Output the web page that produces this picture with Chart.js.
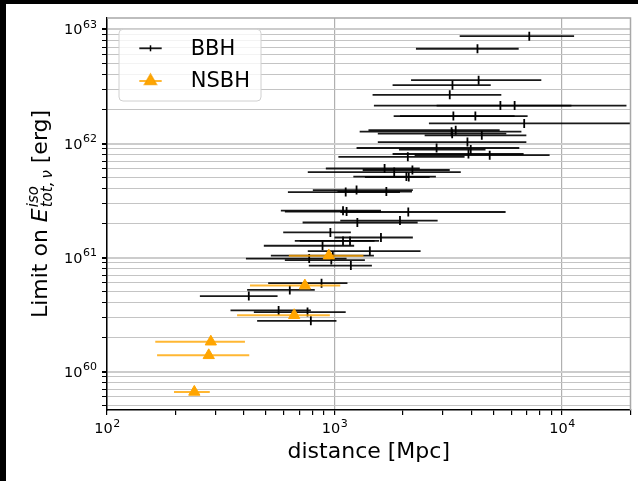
<!DOCTYPE html>
<html>
<head>
<meta charset="utf-8">
<script src="https://cdn.jsdelivr.net/npm/chart.js@4"></script>
<style>
  html, body { margin: 0; padding: 0; background: #000; width: 638px; height: 481px; overflow: hidden; }
  #wrap { position: absolute; left: 6px; top: 4px; width: 632px; height: 477px; background: #fff; }
</style>
</head>
<body>
<div id="wrap"><canvas id="LimitChart" width="632" height="477"></canvas></div>
<script>
// BBH events: distance [Mpc], distance interval, limit on E_iso [erg]
const bbhDist  = [7180, 4250, 4300, 3300, 3210, 5360, 6190, 3330, 4160, 6820,
                  3410, 3270, 3290, 4440, 3840, 2810, 3970, 2100, 3880, 4810,
                  1660, 1830, 2200, 2070, 2120, 1120, 1250, 1690, 1090, 1130,
                  2110, 1260, 1940, 959, 1600, 1090, 1170, 886, 1430, 983,
                  774, 968, 1180, 877, 636, 420, 568, 761, 787];
const bbhLo    = [3550, 2280, 2170, 1800, 1470, 1490, 2810, 1820, 1940, 2600,
                  1410, 1290, 1550, 2490, 1550, 1250, 1920, 1040, 1800, 2250,
                  916, 763, 1330, 1210, 1360, 624, 803, 1030, 581, 605,
                  1060, 724, 1060, 595, 1000, 669, 704, 489, 763, 525,
                  408, 605, 771, 511, 413, 256, 349, 442, 457];
const bbhHi    = [11300, 6450, 8110, 4860, 5410, 19200, 11000, 6190, 7060, 30000,
                  5320, 6630, 5690, 6970, 6970, 6490, 4610, 3730, 6780, 8820,
                  2370, 3590, 3210, 2790, 2620, 1940, 2210, 2190, 1600, 1600,
                  5650, 2320, 2840, 1180, 2210, 1570, 1500, 1220, 2390, 1490,
                  1130, 1360, 1460, 1140, 819, 562, 787, 1120, 1020];
const bbhLimit = [8.73e62, 6.77e62, 3.59e62, 3.25e62, 2.67e62, 2.15e62, 2.15e62, 1.74e62, 1.74e62, 1.50e62,
                  1.31e62, 1.27e62, 1.22e62, 1.18e62, 1.03e62, 9.13e61, 8.86e61, 7.64e61, 8.09e61, 7.90e61,
                  6.04e61, 5.62e61, 5.86e61, 5.13e61, 5.08e61, 3.75e61, 3.91e61, 3.79e61, 2.58e61, 2.53e61,
                  2.51e61, 2.03e61, 2.11e61, 1.66e61, 1.50e61, 1.40e61, 1.40e61, 1.27e61, 1.14e61, 1.04e61,
                  9.80e60, 9.51e60, 8.51e60, 5.97e60, 5.21e60, 4.60e60, 3.44e60, 3.33e60, 2.79e60];

// NSBH events
const nsbhDist  = [944, 741, 665, 286, 280, 242];
const nsbhLo    = [630, 425, 373, 163, 166, 197];
const nsbhHi    = [1340, 1060, 954, 404, 422, 283];
const nsbhLimit = [1.04e61, 5.68e60, 3.12e60, 1.83e60, 1.39e60, 6.64e59];

// axes
const xRange = [100, 20000];
const yRange = [4.61e59, 1.26e63];

const FONT = "'DejaVu Sans', sans-serif";

function isDecade(v) {
	const l = Math.log10(v);
	return Math.abs(l - Math.round(l)) < 1e-6;
}
// 1..9 x 10^n inside [lo, hi]
function logTicks(lo, hi) {
	const out = [];
	for (let e = Math.floor(Math.log10(lo)); e <= Math.ceil(Math.log10(hi)); e++) {
		for (let m = 1; m <= 9; m++) {
			const v = m * Math.pow(10, e);
			if (v >= lo * (1 - 1e-9) && v <= hi * (1 + 1e-9)) out.push({value: v});
		}
	}
	return out;
}

// horizontal error bars, drawn under each dataset's markers
const errorBars = {
	id: 'errorBars',
	beforeDatasetDraw(chart, args) {
		const ds = chart.data.datasets[args.index];
		if (!ds.errLo) return;
		const {ctx, chartArea: a, scales: {x, y}} = chart;
		ctx.save();
		ctx.beginPath();
		ctx.rect(a.left, a.top, a.right - a.left, a.bottom - a.top);
		ctx.clip();
		ctx.strokeStyle = ds.errColor;
		ctx.lineWidth = ds.errWidth;
		ds.data.forEach((p, i) => {
			const py = y.getPixelForValue(p.y);
			ctx.beginPath();
			ctx.moveTo(x.getPixelForValue(ds.errLo[i]), py);
			ctx.lineTo(x.getPixelForValue(ds.errHi[i]), py);
			ctx.stroke();
		});
		ctx.restore();
	}
};

// 10^n tick labels with a raised exponent
function drawPow(ctx, v, x, y, align) {
	const base = '10', exp = String(Math.round(Math.log10(v)));
	ctx.font = '14.5px ' + FONT;
	const wb = ctx.measureText(base).width;
	ctx.font = '11px ' + FONT;
	const we = ctx.measureText(exp).width;
	let x0 = align === 'center' ? x - (wb + we) / 2 : x - wb - we;
	ctx.font = '14.5px ' + FONT;
	ctx.fillText(base, x0, y);
	ctx.font = '11px ' + FONT;
	ctx.fillText(exp, x0 + wb + 0.5, y - 6.5);
}

// tick labels, grey top/right spines, legend box, y title with sub/superscripts
const decorations = {
	id: 'decorations',
	afterDraw(chart) {
		const {ctx, chartArea: a, scales: {x, y}} = chart;
		ctx.save();
		ctx.fillStyle = '#000';
		ctx.textBaseline = 'alphabetic';
		ctx.textAlign = 'left';
		x.ticks.forEach(t => { if (isDecade(t.value)) drawPow(ctx, t.value, x.getPixelForValue(t.value), a.bottom + 23.3, 'center'); });
		y.ticks.forEach(t => { if (isDecade(t.value)) drawPow(ctx, t.value, a.left - 10.5, y.getPixelForValue(t.value) + 5, 'right'); });

		ctx.strokeStyle = '#a8a8a8';
		ctx.lineWidth = 1.5;
		ctx.beginPath();
		ctx.moveTo(a.left, a.top);
		ctx.lineTo(a.right, a.top);
		ctx.lineTo(a.right, a.bottom);
		ctx.stroke();

		// legend
		const bx = 113, by = 25.3, bw = 142, bh = 71.7, r = 4;
		ctx.beginPath();
		ctx.moveTo(bx + r, by);
		ctx.arcTo(bx + bw, by, bx + bw, by + bh, r);
		ctx.arcTo(bx + bw, by + bh, bx, by + bh, r);
		ctx.arcTo(bx, by + bh, bx, by, r);
		ctx.arcTo(bx, by, bx + bw, by, r);
		ctx.closePath();
		ctx.fillStyle = 'rgba(255,255,255,0.8)';
		ctx.fill();
		ctx.strokeStyle = '#d0d0d0';
		ctx.lineWidth = 1;
		ctx.stroke();

		const rows = [44.3, 77];
		chart.data.datasets.forEach((ds, i) => {
			const ry = rows[i], mx = 144.5;
			ctx.strokeStyle = ds.errColor;
			ctx.lineWidth = ds.errWidth;
			ctx.beginPath();
			ctx.moveTo(133.3, ry);
			ctx.lineTo(155.7, ry);
			ctx.stroke();
			if (ds.pointStyle === 'triangle') {
				Chart.helpers.drawPoint(ctx, {pointStyle: 'triangle', radius: ds.radius, borderWidth: 1}, mx, ry);
				ctx.fillStyle = ds.backgroundColor;
				ctx.fill();
			} else {
				ctx.strokeStyle = ds.borderColor;
				ctx.lineWidth = 1.5;
				ctx.beginPath();
				ctx.moveTo(mx, ry - 3);
				ctx.lineTo(mx, ry + 3);
				ctx.stroke();
			}
			ctx.fillStyle = '#000';
			ctx.font = '21px ' + FONT;
			ctx.textBaseline = 'middle';
			ctx.textAlign = 'left';
			ctx.fillText(ds.label, 184.7, ry + 1);
		});

		// y axis title
		const big = '22px ' + FONT, bigIt = 'italic 22px ' + FONT, small = 'italic 15px ' + FONT;
		ctx.translate(40.7, (a.top + a.bottom) / 2);
		ctx.rotate(-Math.PI / 2);
		ctx.fillStyle = '#000';
		ctx.textBaseline = 'alphabetic';
		ctx.font = big;  const w1 = ctx.measureText('Limit on ').width;
		ctx.font = bigIt; const wE = ctx.measureText('E').width;
		ctx.font = small; const wSup = ctx.measureText('iso').width, wSub = ctx.measureText('tot,\u2009ν').width;
		ctx.font = big;  const w2 = ctx.measureText(' [erg]').width;
		let tx = -(w1 + wE + 1 + Math.max(wSup, wSub) + w2) / 2;
		ctx.font = big;   ctx.fillText('Limit on ', tx, 0); tx += w1;
		ctx.font = bigIt; ctx.fillText('E', tx, 0); tx += wE + 1;
		ctx.font = small; ctx.fillText('iso', tx, -9); ctx.fillText('tot,\u2009ν', tx, 5);
		tx += Math.max(wSup, wSub);
		ctx.font = big;   ctx.fillText(' [erg]', tx, 0);
		ctx.restore();
	}
};

Chart.defaults.font.family = FONT;
Chart.defaults.color = '#000';

const CHART = document.getElementById("LimitChart");

let LimitChart = new Chart(CHART, {
	type: 'scatter',
	data: {
		datasets: [
			{
				label: 'BBH',
				data: bbhDist.map((d, i) => ({x: d, y: bbhLimit[i]})),
				errLo: bbhLo,
				errHi: bbhHi,
				errColor: 'rgba(0, 0, 0, 0.9)',
				errWidth: 1.8,
				pointStyle: 'line',
				rotation: 90,
				radius: 4.5,
				borderColor: '#000',
				backgroundColor: '#000',
				borderWidth: 1.8,
				order: 1
			},
			{
				label: 'NSBH',
				data: nsbhDist.map((d, i) => ({x: d, y: nsbhLimit[i]})),
				errLo: nsbhLo,
				errHi: nsbhHi,
				errColor: 'rgba(255, 165, 0, 0.8)',
				errWidth: 2,
				pointStyle: 'triangle',
				radius: 6.5,
				borderColor: '#ffa500',
				backgroundColor: '#ffa500',
				borderWidth: 1,
				order: 0
			}
		]
	},
	options: {
		responsive: false,
		animation: false,
		layout: { padding: {top: 14, right: 7, left: 0, bottom: 0} },
		plugins: { legend: { display: false }, tooltip: { enabled: false } },
		scales: {
			x: {
				type: 'logarithmic',
				min: xRange[0],
				max: xRange[1],
				afterBuildTicks: s => { s.ticks = logTicks(s.min, s.max); },
				afterFit: s => { s.height = 71; },
				grid: {
					color: c => isDecade(c.tick.value) ? '#b0b0b0' : 'rgba(0,0,0,0)',
					lineWidth: 1.2,
					tickColor: '#000',
					tickLength: 5
				},
				border: { color: '#000', width: 1.5 },
				ticks: { display: false, autoSkip: false, maxRotation: 0 },
				title: {
					display: true,
					text: 'distance [Mpc]',
					font: { size: 22 },
					padding: { top: 0, bottom: 16 }
				}
			},
			y: {
				type: 'logarithmic',
				min: yRange[0],
				max: yRange[1],
				afterBuildTicks: s => { s.ticks = logTicks(s.min, s.max); },
				afterFit: s => { s.width = 101; },
				grid: {
					color: c => isDecade(c.tick.value) ? '#cccccc' : '#c4c4c4',
					lineWidth: c => isDecade(c.tick.value) ? 2 : 1,
					tickColor: '#000',
					tickLength: 5
				},
				border: { color: '#000', width: 1.5 },
				ticks: { display: false, autoSkip: false }
			}
		}
	},
	plugins: [errorBars, decorations]
});
</script>
</body>
</html>
